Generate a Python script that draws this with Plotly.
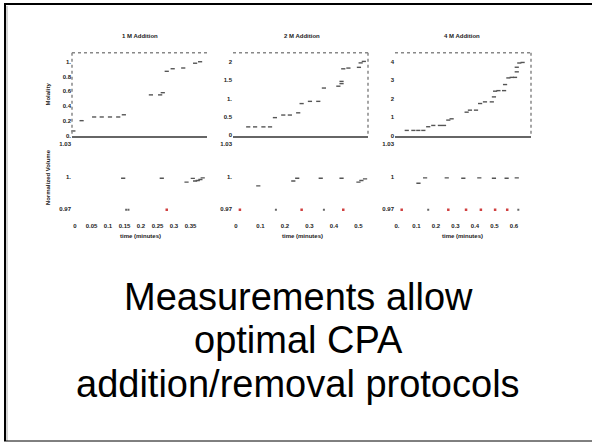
import plotly.graph_objects as go

W, H = 592, 445

# ---------------- data ----------------
titles = ["1 M Addition", "2 M Addition", "4 M Addition"]

# Molality (top panels)
t1 = [-0.005, 0.02, 0.058, 0.081, 0.106, 0.131, 0.148, 0.23, 0.258, 0.266, 0.278, 0.296, 0.328, 0.364, 0.379]
m1 = [0.06, 0.2, 0.25, 0.25, 0.25, 0.25, 0.28, 0.55, 0.55, 0.58, 0.87, 0.905, 0.915, 0.98, 1.0]

t2 = [0.05, 0.078, 0.112, 0.139, 0.159, 0.193, 0.22, 0.254, 0.268, 0.302, 0.336, 0.359,
      0.418, 0.431, 0.431, 0.438, 0.459, 0.502, 0.509, 0.522]
m2 = [0.23, 0.23, 0.23, 0.23, 0.48, 0.55, 0.55, 0.61, 0.86, 0.92, 0.92, 1.28,
      1.33, 1.4, 1.46, 1.8, 1.82, 1.84, 1.96, 2.0]

t3 = [0.05, 0.084, 0.109, 0.135, 0.16, 0.186, 0.22, 0.241, 0.263, 0.28, 0.357, 0.374, 0.405,
      0.426, 0.451, 0.486, 0.497, 0.503, 0.52, 0.549, 0.554, 0.571, 0.588, 0.605, 0.614,
      0.614, 0.627, 0.644]
m3 = [0.27, 0.27, 0.27, 0.27, 0.47, 0.54, 0.54, 0.54, 0.83, 0.9, 1.26, 1.37, 1.37,
      1.73, 1.82, 1.82, 2.09, 2.4, 2.43, 2.43, 2.76, 3.12, 3.15, 3.15, 3.45,
      3.7, 3.93, 3.96]

# Normalized volume (bottom panels)
vt1 = [0.146, 0.263, 0.338, 0.357, 0.364, 0.372, 0.38, 0.387]
vv1 = [0.9986, 0.9986, 0.995, 0.9985, 0.996, 0.9965, 0.9975, 0.999]
ft1_gray = [0.155, 0.162]
ft1_red = [0.278]

vt2 = [0.091, 0.234, 0.25, 0.346, 0.431, 0.5, 0.512, 0.527]
vv2 = [0.9915, 0.996, 0.9986, 0.9986, 0.9986, 0.995, 0.9965, 0.998]
ft2_gray = [0.163, 0.359]
ft2_red = [0.016, 0.268, 0.438]

vt3 = [0.11, 0.144, 0.255, 0.34, 0.422, 0.497, 0.562, 0.614]
vv3 = [0.994, 0.999, 0.999, 0.9986, 0.999, 0.9986, 0.9986, 0.999]
ft3_gray = [0.16, 0.622]
ft3_red = [0.024, 0.263, 0.354, 0.43, 0.503, 0.565]

floor_value = 0.9695

# tick labels
top_yticks = [[0, 0.2, 0.4, 0.6, 0.8, 1.0], [0, 0.5, 1.0, 1.5, 2.0], [0, 1, 2, 3, 4]]
top_ytext = [["0.", "0.2", "0.4", "0.6", "0.8", "1."], ["0", "0.5", "1.", "1.5", "2"],
             ["0", "1", "2", "3", "4"]]
bot_yticks = [0.97, 1.0, 1.03]
bot_ytext = [["0.97", "1.", "1.03"], ["0.97", "1.", "1.03"], ["0.97", "1", "1.03"]]
bot_xticks = [[0, 0.05, 0.1, 0.15, 0.2, 0.25, 0.3, 0.35], [0, 0.1, 0.2, 0.3, 0.4, 0.5],
              [0, 0.1, 0.2, 0.3, 0.4, 0.5, 0.6]]
bot_xtext = [["0", "0.05", "0.1", "0.15", "0.2", "0.25", "0.3", "0.35"],
             ["0", "0.1", "0.2", "0.3", "0.4", "0.5"],
             ["0.", "0.1", "0.2", "0.3", "0.4", "0.5", "0.6"]]

slide_lines = ["Measurements allow", "optimal CPA", "addition/removal protocols"]

# ---------------- layout geometry (pixels) ----------------
def px(x):
    return x / W

def py(y):
    return 1 - y / H

def bold(lst):
    return ["<b>" + s + "</b>" for s in lst]

panels_x = [(72, 207), (233, 368), (395, 531)]
xranges = [(-0.0091, 0.40), (-0.0122, 0.539), (-0.0103, 0.687)]
top_yr = [(-0.0135, 1.122), (-0.027, 2.234), (-0.054, 4.486)]
top_y = (53, 137)
bot_y = (137, 222)
bot_yr = (0.959, 1.0374)

fig = go.Figure()
tops = [(t1, m1), (t2, m2), (t3, m3)]
bots = [(vt1, vv1, ft1_gray, ft1_red), (vt2, vv2, ft2_gray, ft2_red), (vt3, vv3, ft3_gray, ft3_red)]

mk_gray = dict(symbol="line-ew", size=3, line=dict(color="#555555", width=1.4))
mk_gray_small = dict(symbol="square", size=2, color="#666666", line=dict(width=0))
mk_red = dict(symbol="square", size=2.5, color="#d04040", line=dict(width=0))

for i in range(3):
    ta = "" if i == 0 else str(i + 1)
    ba = str(i + 4)
    tx, ty = tops[i]
    fig.add_trace(go.Scatter(x=tx, y=ty, mode="markers", marker=mk_gray,
                             xaxis="x" + ta, yaxis="y" + ta, showlegend=False, cliponaxis=False))
    bx, bv, fg, fr = bots[i]
    fig.add_trace(go.Scatter(x=bx, y=bv, mode="markers", marker=mk_gray,
                             xaxis="x" + ba, yaxis="y" + ba, showlegend=False))
    fig.add_trace(go.Scatter(x=fg, y=[floor_value] * len(fg), mode="markers", marker=mk_gray_small,
                             xaxis="x" + ba, yaxis="y" + ba, showlegend=False))
    fig.add_trace(go.Scatter(x=fr, y=[floor_value] * len(fr), mode="markers", marker=mk_red,
                             xaxis="x" + ba, yaxis="y" + ba, showlegend=False))

tickfont = dict(family="Liberation Sans", size=6, color="#222222")
layout = dict(width=W, height=H, margin=dict(l=0, r=0, t=0, b=0),
              paper_bgcolor="white", plot_bgcolor="white", showlegend=False)

for i in range(3):
    xd = [px(panels_x[i][0]), px(panels_x[i][1])]
    tk = "" if i == 0 else str(i + 1)
    bk = str(i + 4)
    layout["xaxis" + tk] = dict(domain=xd, range=list(xranges[i]), anchor="y" + tk,
                                showgrid=False, zeroline=False, showticklabels=False,
                                showline=True, linecolor="#666666", linewidth=2, ticks="")
    layout["yaxis" + tk] = dict(domain=[py(top_y[1]), py(top_y[0])], range=list(top_yr[i]),
                                anchor="x" + tk, showgrid=False, zeroline=False,
                                tickvals=top_yticks[i], ticktext=bold(top_ytext[i]),
                                tickfont=tickfont, ticks="", showline=False)
    layout["xaxis" + bk] = dict(domain=xd, range=list(xranges[i]), anchor="y" + bk,
                                showgrid=False, zeroline=False, showline=False, ticks="",
                                tickvals=bot_xticks[i], ticktext=bold(bot_xtext[i]), tickfont=tickfont)
    layout["yaxis" + bk] = dict(domain=[py(bot_y[1]), py(bot_y[0])], range=list(bot_yr),
                                anchor="x" + bk, showgrid=False, zeroline=False,
                                tickvals=bot_yticks, ticktext=bold(bot_ytext[i]),
                                tickfont=tickfont, ticks="", showline=False)

fig.update_layout(**layout)

shapes = []
# slide border
shapes.append(dict(type="line", xref="paper", yref="paper", x0=px(5), x1=px(5), y0=py(4), y1=py(443),
                   line=dict(color="black", width=2)))
shapes.append(dict(type="line", xref="paper", yref="paper", x0=px(7), x1=px(7), y0=py(6), y1=py(443),
                   line=dict(color="#aaaaaa", width=1)))
shapes.append(dict(type="line", xref="paper", yref="paper", x0=px(4), x1=1, y0=py(4), y1=py(4),
                   line=dict(color="black", width=2)))
shapes.append(dict(type="line", xref="paper", yref="paper", x0=px(4), x1=1, y0=py(443), y1=py(443),
                   line=dict(color="black", width=1)))
dot = dict(color="#888888", width=1.5, dash="dot")
for i in range(3):
    x0, x1 = panels_x[i]
    shapes.append(dict(type="line", xref="paper", yref="paper", x0=px(x0), x1=px(x1),
                       y0=py(53), y1=py(53), line=dot))
shapes.append(dict(type="line", xref="paper", yref="paper", x0=px(72), x1=px(72),
                   y0=py(53), y1=py(136), line=dot))
for xr in (368, 531):
    shapes.append(dict(type="line", xref="paper", yref="paper", x0=px(xr), x1=px(xr),
                       y0=py(53), y1=py(136), line=dot))

ann = []
small = dict(family="Liberation Sans", size=6, color="#222222")
for i, cx in enumerate([140, 302, 462]):
    ann.append(dict(text="<b>" + titles[i] + "</b>", x=px(cx), y=py(36), xref="paper", yref="paper",
                    showarrow=False, font=small, xanchor="center", yanchor="middle"))
    ann.append(dict(text="<b>time (minutes)</b>", x=px(cx), y=py(237), xref="paper", yref="paper",
                    showarrow=False, font=small, xanchor="center", yanchor="middle"))
ann.append(dict(text="<b>Molality</b>", x=px(48), y=py(95), xref="paper", yref="paper",
                showarrow=False, font=small, textangle=-90, xanchor="center", yanchor="middle"))
ann.append(dict(text="<b>Normalized Volume</b>", x=px(48), y=py(178), xref="paper", yref="paper",
                showarrow=False, font=small, textangle=-90, xanchor="center", yanchor="middle"))
big = dict(family="Liberation Sans", size=38, color="black")
for line, yc in zip(slide_lines, [298, 342, 386]):
    ann.append(dict(text=line, x=px(298), y=py(yc), xref="paper", yref="paper",
                    showarrow=False, font=big, xanchor="center", yanchor="middle"))

fig.update_layout(shapes=shapes, annotations=ann)
fig.write_html("out.html")
